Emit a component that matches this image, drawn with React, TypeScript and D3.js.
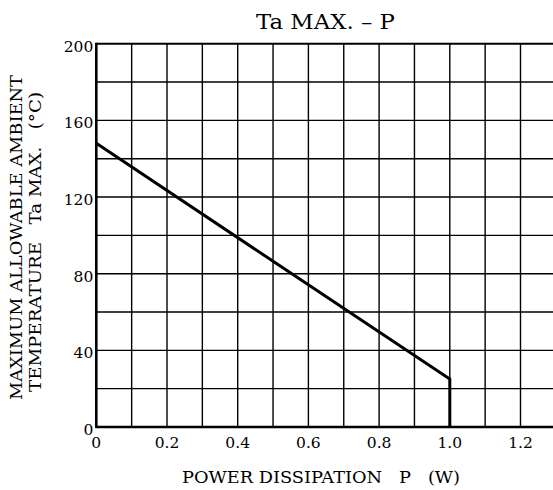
import React from "react";
import * as d3 from "d3";

const title = "Ta MAX. \u2013 P";
const xLabel = "POWER DISSIPATION   P   (W)";
const yLabel1 = "MAXIMUM ALLOWABLE AMBIENT";
const yLabel2 = "TEMPERATURE   Ta MAX.   (\u00B0C)";

const xTicks = [0, 0.2, 0.4, 0.6, 0.8, 1.0, 1.2];
const xTickLabels = ["0", "0.2", "0.4", "0.6", "0.8", "1.0", "1.2"];
const yTicks = [0, 40, 80, 120, 160, 200];
const yTickLabels = ["0", "40", "80", "120", "160", "200"];
const xGrid = [0.1, 0.2, 0.3, 0.4, 0.5, 0.6, 0.7, 0.8, 0.9, 1.0, 1.1, 1.2, 1.3];
const yGrid = [20, 40, 60, 80, 100, 120, 140, 160, 180, 200];

const power = [0, 1.0, 1.0];
const taMax = [148, 25, 0];

const W = 553;
const H = 490;
const FONT = "DejaVu Serif, Liberation Serif, serif";

export default function App() {
  const x = d3.scaleLinear().domain([0, 1.3]).range([96.3, 96.3 + 13 * 35.35]);
  const y = d3.scaleLinear().domain([0, 200]).range([427, 43.7]);
  const left = x(0);
  const right = W + 10;
  const line = d3
    .line<number>()
    .x((_, i) => x(power[i]))
    .y((d) => y(d));

  return (
    <svg
      width={W}
      height={H}
      viewBox={`0 0 ${W} ${H}`}
      style={{ position: "fixed", left: 0, top: 0, background: "#fff" }}
    >
      <rect x={0} y={0} width={W} height={H} fill="#fff" />
      {yGrid.map((v) => (
        <line key={"h" + v} x1={left} x2={right} y1={y(v)} y2={y(v)} stroke="#000" strokeWidth={v === 200 ? 2 : 1.4} />
      ))}
      {xGrid.map((v) => (
        <line key={"v" + v} x1={x(v)} x2={x(v)} y1={y(0)} y2={y(200)} stroke="#000" strokeWidth={1.4} />
      ))}
      <line x1={left} x2={left} y1={y(0) + 1} y2={y(200) - 1} stroke="#000" strokeWidth={2.6} />
      <line x1={left - 1} x2={right} y1={y(0)} y2={y(0)} stroke="#000" strokeWidth={2.6} />
      <path d={line(taMax) || ""} fill="none" stroke="#000" strokeWidth={3} strokeLinejoin="miter" />
      {yTicks.map((v, i) => (
        <text
          key={"yt" + v}
          x={left - 3}
          y={y(v) + 8}
          textAnchor="end"
          fontFamily={FONT}
          fontSize={15.5}
          fill="#000"
        >
          {yTickLabels[i]}
        </text>
      ))}
      {xTicks.map((v, i) => (
        <text
          key={"xt" + v}
          x={x(v)}
          y={448}
          textAnchor="middle"
          fontFamily={FONT}
          fontSize={15.5}
          fill="#000"
        >
          {xTickLabels[i]}
        </text>
      ))}
      <text x={256} y={29} fontFamily={FONT} fontSize={21} textLength={139} lengthAdjust="spacingAndGlyphs" fill="#000">
        {title}
      </text>
      <text x={182} y={483} fontFamily={FONT} fontSize={16.5} textLength={278} lengthAdjust="spacingAndGlyphs" fill="#000" style={{ whiteSpace: "pre" }}>
        {xLabel}
      </text>
      <text
        transform="translate(22,400) rotate(-90)"
        fontFamily={FONT}
        fontSize={16.5}
        textLength={325}
        lengthAdjust="spacingAndGlyphs"
        fill="#000"
      >
        {yLabel1}
      </text>
      <text
        transform="translate(41,392) rotate(-90)"
        fontFamily={FONT}
        fontSize={16.5}
        textLength={300}
        lengthAdjust="spacingAndGlyphs"
        fill="#000"
        style={{ whiteSpace: "pre" }}
      >
        {yLabel2}
      </text>
    </svg>
  );
}
